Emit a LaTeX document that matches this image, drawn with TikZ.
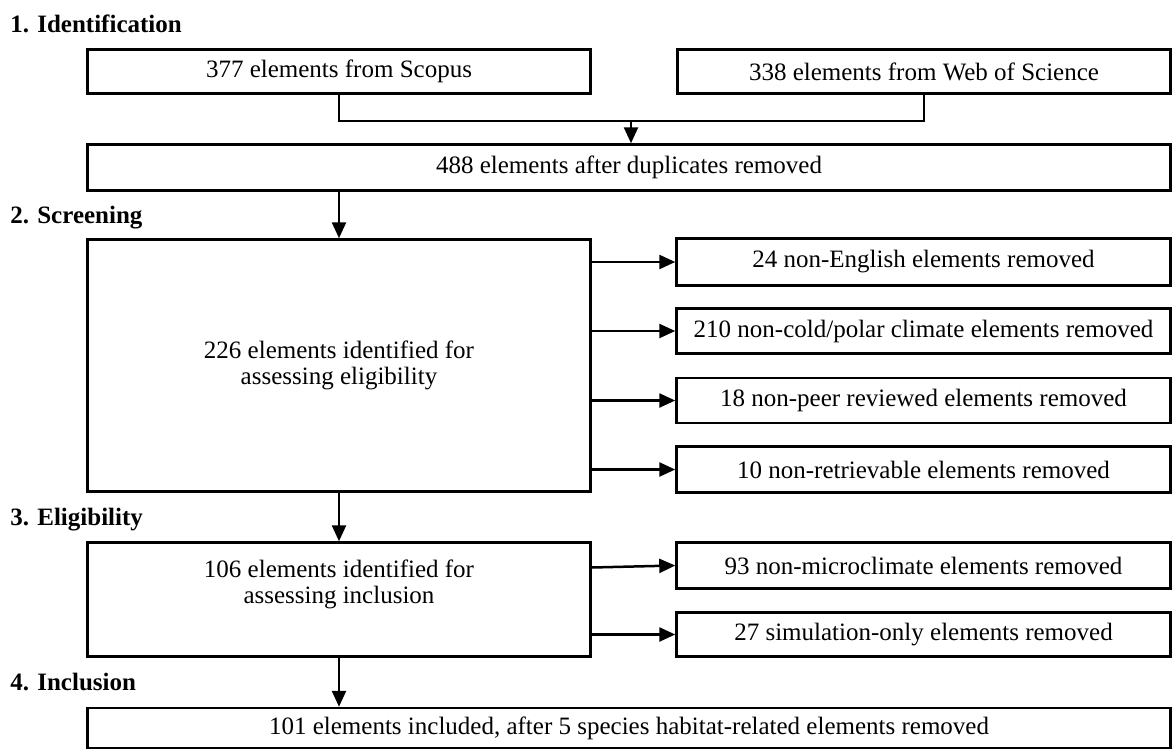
\documentclass[tikz,border=0pt]{standalone}
\usepackage{fontspec}
\setmainfont{Liberation Serif}
\usetikzlibrary{arrows.meta}

\begin{document}
\begin{tikzpicture}[x=1pt,y=-1pt,font=\fontsize{25}{26}\selectfont,line width=2.5pt,>={Triangle[length=16pt,width=14pt]},
 b/.style={draw,align=center,inner sep=0pt,minimum height=47pt},
 bl/.style={b,minimum width=503pt},
 br/.style={b,minimum width=494pt},
 bw/.style={b,minimum width=1083pt},
 h/.style={anchor=base west,inner sep=0pt,font=\fontsize{25}{26}\selectfont\bfseries}]
 \useasboundingbox (0,0) rectangle (1173,750);
 \node[h](h1) at (9,32){1. Identification};
 \node[bl,minimum height=44pt](scopus) at (339,71.5){377 elements from Scopus};
 \node[br,minimum height=44pt,minimum width=493pt](wos) at (924,71.5){338 elements from Web of Science};
 \node[bw,minimum height=46pt](dup) at (629,167.5){488 elements after duplicates removed};
 \node[h](h2) at (9,223){2. Screening};
 \node[bl,minimum height=252pt](scr) at (339,365.5){226 elements identified for\\assessing eligibility};
 \node[br](r1) at (923.5,262){24 non-English elements removed};
 \node[br,minimum height=45pt](r2) at (923.5,331){210 non-cold/polar climate elements removed};
 \node[br,minimum height=45pt](r3) at (923.5,400.5){18 non-peer reviewed elements removed};
 \node[br,minimum height=46pt](r4) at (923.5,469.5){10 non-retrievable elements removed};
 \node[h](h3) at (9,525){3. Eligibility};
 \node[bl,minimum height=114pt](elig) at (339,599.5){};
 \node[align=center,inner sep=0pt](eligt) at (339,584){106 elements identified for\\assessing inclusion};
 \node[br,minimum height=46pt](r5) at (923.5,565.5){93 non-microclimate elements removed};
 \node[br,minimum height=44pt](r6) at (923.5,634.5){27 simulation-only elements removed};
 \node[h](h4) at (9,690){4. Inclusion};
 \node[bw,minimum height=40pt](incl) at (629,728){101 elements included, after 5 species habitat-related elements removed};
 \coordinate(m) at (631,121);
 \draw(scopus.south)|-(m)-|(wos.south);
 \draw[->](m)--(m|-dup.north);
 \draw[->](dup.south-|scr.north)--(scr.north);
 \draw[->](scr.east|-r1.west)--(r1.west);
 \draw[->](scr.east|-r2.west)--(r2.west);
 \draw[->](scr.east|-r3.west)--(r3.west);
 \draw[->](scr.east|-r4.west)--(r4.west);
 \draw[->](scr.south)--(elig.north);
 \draw[->]([yshift=-2pt]elig.east|-r5.west)--(r5.west);
 \draw[->](elig.east|-r6.west)--(r6.west);
 \draw[->](elig.south)--(incl.north-|elig.south);
\end{tikzpicture}
\end{document}
